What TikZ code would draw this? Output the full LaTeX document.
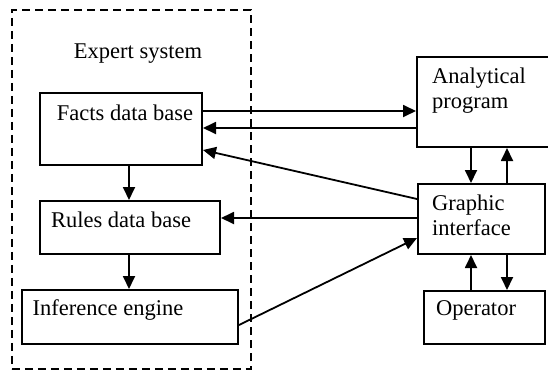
\documentclass[tikz,border=0pt]{standalone}
\usepackage{fontspec}
\setmainfont{Liberation Serif}
\usetikzlibrary{arrows.meta}
\begin{document}
\begin{tikzpicture}[x=1pt,y=-1pt,
  box/.style={draw,line width=2pt,inner sep=0pt,anchor=north west},
  lbl/.style={inner sep=0pt,font=\fontsize{22.5}{25}\selectfont},
  arr/.style={line width=1.8pt,-{Triangle[length=13pt,width=12pt]}}]
\useasboundingbox (0,0) rectangle (548,372);
\node[draw,dash pattern=on 8pt off 5pt,line width=1.6pt,inner sep=0pt,anchor=north west,minimum width=239pt,minimum height=359pt] (es) at (11,9) {};
\node[lbl] (estxt) at (138,54) {Expert system};
\node[box,minimum width=162pt,minimum height=72pt] (facts) at (39,92) {};
\node[lbl] (factstxt) at (125,113) {Facts data base};
\node[box,minimum width=180pt,minimum height=53pt] (rules) at (39,200) {};
\node[lbl] (rulestxt) at (121,220) {Rules data base};
\node[box,minimum width=216pt,minimum height=54pt] (inf) at (21,289) {};
\node[lbl] (inftxt) at (108,310) {Inference engine};
\node[box,minimum width=140pt,minimum height=90pt] (anal) at (416,56) {};
\node[lbl,anchor=north west,align=left] (analtxt) at (432,68) {Analytical\\program};
\node[box,minimum width=127pt,minimum height=70pt] (gi) at (417,183) {};
\node[lbl,anchor=north west,align=left] (gitxt) at (432,195) {Graphic\\interface};
\node[box,minimum width=121pt,minimum height=53pt] (op) at (423,290) {};
\node[lbl] (optxt) at (476,310) {Operator};
% connectors
\draw[arr] (facts.east |- 0,111) -- (anal.west |- 0,111);
\draw[arr] (anal.west |- 0,128) -- (facts.east |- 0,128);
\draw[arr] (gi.west |- 0,199) -- (facts.east |- 0,150);
\draw[arr] (gi.west |- 0,218) -- (rules.east |- 0,218);
\draw[arr] (inf.east |- 0,325) -- (gi.west |- 0,238);
\draw[arr] (facts.south -| 129,0) -- (rules.north -| 129,0);
\draw[arr] (rules.south -| 129,0) -- (inf.north -| 129,0);
\draw[arr] (anal.south -| 471,0) -- (gi.north -| 471,0);
\draw[arr] (gi.north -| 507,0) -- (anal.south -| 507,0);
\draw[arr] (gi.south -| 507,0) -- (op.north -| 507,0);
\draw[arr] (op.north -| 471,0) -- (gi.south -| 471,0);
\end{tikzpicture}
\end{document}
